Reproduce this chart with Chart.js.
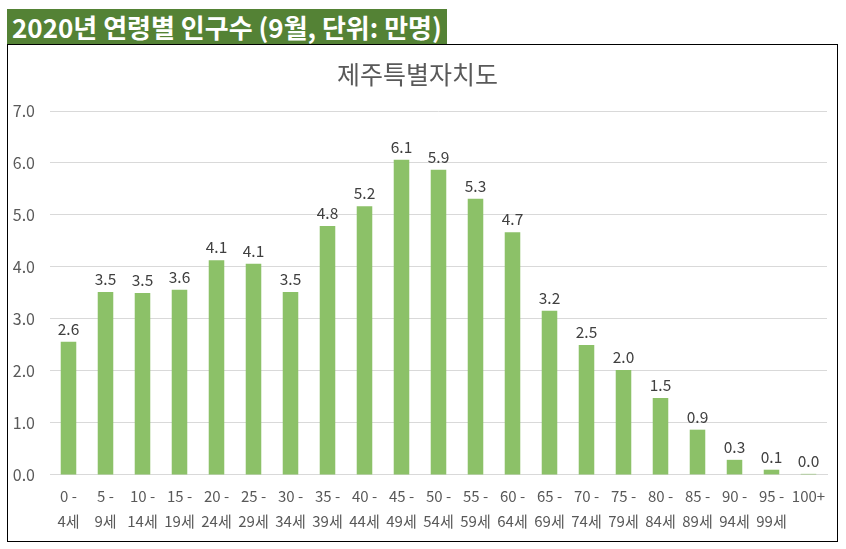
<!DOCTYPE html>
<html>
<head>
<meta charset="utf-8">
<script src="https://cdn.jsdelivr.net/npm/chart.js@4"></script>
<style>
  body { margin: 0; background: #fff; font-family: "Noto Sans CJK KR", "Noto Sans", sans-serif; }
  #header {
    position: absolute; left: 7px; top: 9px; width: 440px; height: 35px;
    background: #548235; color: #fff; font-weight: bold; font-size: 26px;
    line-height: 35px; padding-left: 5px; box-sizing: border-box; white-space: nowrap;
    overflow: hidden;
  }
  #box {
    position: absolute; left: 7px; top: 44px; width: 831px; height: 498px;
    border: 1px solid #000; box-sizing: border-box; overflow: hidden;
  }
  #wrap { position: absolute; left: 0; top: 0; width: 829px; height: 490px; }
</style>
</head>
<body>
<div id="header">2020년 연령별 인구수 (9월, 단위: 만명)</div>
<div id="box"><div id="wrap"><canvas id="myChart"></canvas></div></div>
<script>
const ageGroups = [
    ['0 -', '4세'], ['5 -', '9세'], ['10 -', '14세'], ['15 -', '19세'], ['20 -', '24세'],
    ['25 -', '29세'], ['30 -', '34세'], ['35 -', '39세'], ['40 -', '44세'], ['45 -', '49세'],
    ['50 -', '54세'], ['55 -', '59세'], ['60 -', '64세'], ['65 -', '69세'], ['70 -', '74세'],
    ['75 -', '79세'], ['80 -', '84세'], ['85 -', '89세'], ['90 -', '94세'], ['95 -', '99세'],
    '100+'
];
const population = [2.56, 3.52, 3.50, 3.56, 4.13, 4.06, 3.52, 4.79, 5.17, 6.06,
    5.87, 5.31, 4.67, 3.16, 2.50, 2.02, 1.48, 0.87, 0.29, 0.10, 0.02];
const yTicks = [0, 1, 2, 3, 4, 5, 6, 7];

const grey = '#595959';

// value labels above each bar
const barLabels = {
    id: 'barLabels',
    afterDatasetsDraw(chart) {
        const ctx = chart.ctx;
        const meta = chart.getDatasetMeta(0);
        ctx.save();
        ctx.font = '15.5px "Noto Sans CJK KR", "Noto Sans", sans-serif';
        ctx.fillStyle = '#404040';
        ctx.textAlign = 'center';
        ctx.textBaseline = 'bottom';
        meta.data.forEach((bar, i) => {
            ctx.fillText(population[i].toFixed(1), bar.x, bar.y - 5);
        });
        ctx.restore();
    }
};

const ctx = document.getElementById('myChart').getContext('2d');
const chart = new Chart(ctx, {
    type: 'bar',
    data: {
        labels: ageGroups,
        datasets: [{
            data: population,
            backgroundColor: '#8cc168',
            barPercentage: 0.42,
            categoryPercentage: 1.0
        }]
    },
    options: {
        responsive: true,
        maintainAspectRatio: false,
        animation: false,
        layout: { padding: { left: 0, right: 10, top: 0, bottom: 0 } },
        plugins: {
            legend: { display: false },
            tooltip: { enabled: false },
            title: {
                display: true,
                text: '제주특별자치도',
                color: grey,
                font: { family: '"Noto Sans CJK KR", sans-serif', size: 25, weight: 'normal' },
                padding: { top: 14, bottom: 22 }
            }
        },
        scales: {
            x: {
                grid: { display: false },
                border: { color: '#d9d9d9' },
                ticks: {
                    color: grey,
                    autoSkip: false,
                    maxRotation: 0,
                    padding: 1,
                    font: { family: '"Noto Sans CJK KR", sans-serif', size: 15, lineHeight: 1.67 }
                }
            },
            y: {
                min: 0,
                max: 7,
                afterBuildTicks: (scale) => { scale.ticks = yTicks.map(v => ({ value: v })); },
                afterFit: (scale) => { scale.width = 42; },
                grid: { color: '#d9d9d9', drawTicks: false },
                border: { display: false },
                ticks: {
                    color: grey,
                    padding: 15,
                    callback: (v) => v.toFixed(1),
                    font: { family: '"Noto Sans CJK KR", sans-serif', size: 16 }
                }
            }
        }
    },
    plugins: [barLabels]
});
</script>
</body>
</html>
